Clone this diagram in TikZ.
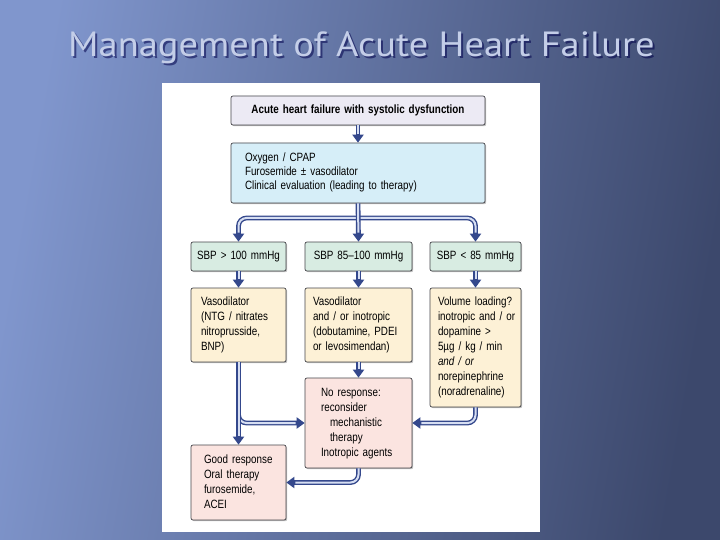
\documentclass[tikz,border=0pt]{standalone}
\usepackage{fontspec}
\setmainfont{Liberation Sans}[FakeStretch=0.82]
\newfontfamily\titlefont{PT Sans}[FakeStretch=1.1]
\usetikzlibrary{arrows.meta,shadows,calc}
\definecolor{bgL}{RGB}{128,150,205}
\definecolor{bgR}{RGB}{60,72,108}
\definecolor{titlec}{RGB}{196,206,232}
\definecolor{tubedark}{RGB}{52,72,140}
\definecolor{tubelight}{RGB}{214,222,242}
\definecolor{boxline}{RGB}{70,70,75}
\definecolor{lav}{RGB}{236,234,244}
\definecolor{cyanbox}{RGB}{214,238,248}
\definecolor{mint}{RGB}{216,236,226}
\definecolor{cream}{RGB}{253,241,214}
\definecolor{pinkbox}{RGB}{251,228,224}
\newcommand{\ltx}[2]{\hspace*{#1}\begin{tabular}{@{}l@{}}#2\end{tabular}}
\tikzset{
  fbox/.style={draw=boxline, line width=0.7pt, rounded corners=2pt, inner ysep=0pt, inner xsep=0pt,
    font=\fontsize{12}{15}\selectfont, align=left,
    drop shadow={shadow xshift=1.2pt, shadow yshift=-1.2pt, fill=black, opacity=0.25}},
  tube/.style={draw=tubedark, line width=4.8pt, rounded corners=8pt,
    -{Triangle[length=8pt,width=11pt]},
    postaction={draw=tubelight, line width=2pt, -, shorten >=9pt}}
}
\begin{document}
\begin{tikzpicture}[x=1pt,y=-1pt]
\useasboundingbox (0,0) rectangle (720,540);
\shade[left color=bgL, right color=bgR, shading angle=80] (0,0) rectangle (720,540);
\fill[white] (162,83) rectangle (540,532);
% title
\node[font=\titlefont\fontsize{35}{40}\selectfont, text=black!70!blue, opacity=0.55] (tshadow) at (363.5,49.5) {Management of Acute Heart Failure};
\node[font=\titlefont\fontsize{35}{40}\selectfont, text=titlec] (title) at (361.5,47.5) {Management of Acute Heart Failure};
% boxes
\node[fbox, fill=lav, minimum height=29pt, align=center, text width=254pt, font=\bfseries\fontsize{12}{15}\selectfont] (b1) at (358,110.5) {Acute heart failure with systolic dysfunction};
\node[fbox, fill=cyanbox, minimum height=60pt, text width=254pt, font=\fontsize{12}{14}\selectfont] (b2) at (358,173) {\ltx{14pt}{Oxygen / CPAP\\Furosemide ± vasodilator\\Clinical evaluation (leading to therapy)}};
\node[fbox, fill=mint, minimum height=29pt, text width=95pt, align=center] (sA) at (238.5,256.5) {SBP > 100 mmHg};
\node[fbox, fill=mint, minimum height=29pt, text width=107pt, align=center] (sB) at (358.5,256.5) {SBP 85–100 mmHg};
\node[fbox, fill=mint, minimum height=29pt, text width=91pt, align=center] (sC) at (475.5,256.5) {SBP < 85 mmHg};
\node[fbox, fill=cream, minimum height=74pt, text width=95pt] (vA) at (238.5,325) {\ltx{10pt}{Vasodilator\\(NTG / nitrates\\nitroprusside,\\BNP)}};
\node[fbox, fill=cream, minimum height=74pt, text width=107pt] (vB) at (358.5,325) {\ltx{8pt}{Vasodilator\\and / or inotropic\\(dobutamine, PDEI\\or levosimendan)}};
\node[fbox, fill=cream, minimum height=119pt, text width=91pt] (vC) at (475.5,347.5) {\ltx{8pt}{Volume loading?\\inotropic and / or\\dopamine >\\5µg / kg / min\\\textit{and / or}\\norepinephrine\\(noradrenaline)}};
\node[fbox, fill=pinkbox, minimum height=90pt, text width=107pt] (nr) at (358.5,423) {\ltx{16pt}{No response:\\reconsider\\\hspace*{9pt}mechanistic\\\hspace*{9pt}therapy\\Inotropic agents}};
\node[fbox, fill=pinkbox, minimum height=75pt, text width=95pt] (gr) at (238.5,482.5) {\ltx{13pt}{Good response\\Oral therapy\\furosemide,\\ACEI}};
% connectors
\draw[tube] (b1.south) -- (b2.north);
\coordinate (split) at (358,218);
\draw[tube] (split) -| (sA.north);
\draw[tube] (split) -| (sC.north);
\draw[tube] (b2.south) -- (sB.north);
\draw[tube] (sA.south) -- (vA.north);
\draw[tube] (sB.south) -- (vB.north);
\draw[tube] (sC.south) -- (vC.north);
\draw[tube] (vB.south) -- (nr.north);
\coordinate (brA) at (238.5,400);
\draw[tube] (brA) |- (nr.west);
\draw[tube] (vA.south) -- (gr.north);
\draw[tube] (vC.south) |- (nr.east);
\draw[tube] (nr.south) |- (gr.east);
\end{tikzpicture}
\end{document}
